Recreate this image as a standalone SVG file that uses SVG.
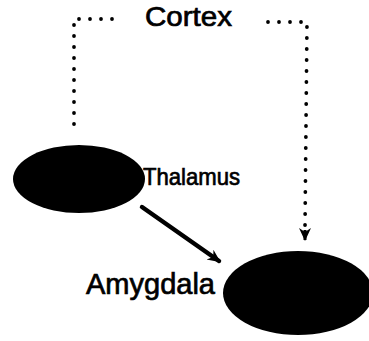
<svg xmlns="http://www.w3.org/2000/svg" width="369" height="341" viewBox="0 0 369 341">
<defs>
<style>
.lbl{font-family:"Liberation Sans",Arial,sans-serif;fill:#000;stroke:#000;stroke-width:0.7}
.dot{fill:none;stroke:#000;stroke-width:3.8;stroke-linecap:round;stroke-dasharray:0 11}
</style>
<marker id="ah" markerWidth="14" markerHeight="14" refX="11" refY="7" orient="auto" markerUnits="userSpaceOnUse">
<path d="M0,1 L13,7 L0,13 L4,7 Z" fill="#000"/>
</marker>
<marker id="ah2" markerWidth="14" markerHeight="12" refX="12" refY="6" orient="auto" markerUnits="userSpaceOnUse">
<path d="M0,0 L13,6 L0,12 L4,6 Z" fill="#000"/>
</marker>
</defs>
<rect width="369" height="341" fill="#fff"/>
<g id="connectors">
<path class="dot" d="M112,19 L74,19 L74,134"/>
<path class="dot" d="M268,22 L307,22 L305,228"/>
<path d="M305,230 L305,240" stroke="#000" stroke-width="3" marker-end="url(#ah2)"/>
<path d="M142,207 L219,261" stroke="#000" stroke-width="4.5" stroke-linecap="round" marker-end="url(#ah)"/>
</g>
<g id="cortex">
<text class="lbl" x="145" y="25.5" font-size="27.5" textLength="87" lengthAdjust="spacingAndGlyphs">Cortex</text>
</g>
<g id="thalamus">
<ellipse cx="79" cy="179" rx="66" ry="34" fill="#000"/>
<text class="lbl" x="143" y="185" font-size="24" textLength="97" lengthAdjust="spacingAndGlyphs">Thalamus</text>
</g>
<g id="amygdala">
<ellipse cx="298" cy="293" rx="75" ry="42" fill="#000"/>
<text class="lbl" x="86" y="294" font-size="29" textLength="129" lengthAdjust="spacingAndGlyphs">Amygdala</text>
</g>
</svg>
